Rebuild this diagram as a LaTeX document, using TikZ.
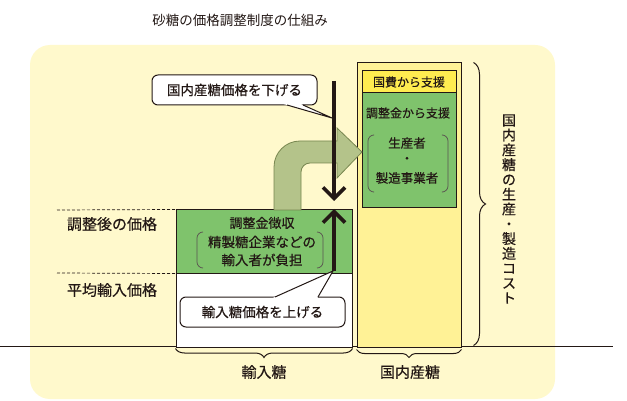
\documentclass[tikz,border=0pt]{standalone}
\usepackage{fontspec}
\newfontfamily\jpr{Noto Sans CJK JP}
\newfontfamily\jp[FakeBold=0.5]{Noto Sans CJK JP}
\usetikzlibrary{arrows.meta,decorations.pathreplacing,calc}
\definecolor{bgY}{RGB}{255,249,204}
\definecolor{domY}{RGB}{255,242,150}
\definecolor{topY}{RGB}{255,236,80}
\definecolor{grn}{RGB}{127,195,108}
\definecolor{olive}{RGB}{180,195,138}
\definecolor{oliveD}{RGB}{120,135,80}
\definecolor{ink}{RGB}{35,24,21}
\begin{document}
\begin{tikzpicture}[x=1pt,y=-1pt,
  box/.style={draw=ink, line width=1pt, inner sep=0, minimum width=#1},
  jt/.style={font=\jp\fontsize{#1}{#1}\selectfont, text=ink, inner sep=0},
  paren/.style={draw=ink!75, line width=0.7pt, rounded corners=6pt},
  bigarrow/.style={draw=ink, line width=3.6pt, -{Straight Barb[length=11pt, width=22pt]}},
  callout/.style={draw=ink, line width=1pt, fill=white, rounded corners=6pt, minimum width=165pt, minimum height=30pt, inner sep=0, font=\jp\fontsize{13.5}{13.5}\selectfont, text=ink},
  tail/.style={draw=ink, line width=1pt},
  bracedeco/.style={draw=ink, line width=1pt, decorate, decoration={brace, amplitude=#1}},
  guide/.style={draw=ink, line width=0.7pt, dash pattern=on 3pt off 2pt}
]
\useasboundingbox (0,0) rectangle (627,401);
\fill[white] (0,0) rectangle (627,401);
\fill[bgY, rounded corners=20pt] (30,45) rectangle (555,399);

% title
\node[font=\jpr\fontsize{13.5}{13.5}\selectfont, text=ink, inner sep=0] (title) at (240,20) {砂糖の価格調整制度の仕組み};

% base line
\coordinate (bl) at (0,346);
\coordinate (br) at (613,346);
\draw[ink, line width=0.8pt] (bl) -- (br);

% domestic sugar column
\node[box=104pt, minimum height=284pt, fill=domY] (dom) at (409,205) {};
\node[box=94pt, minimum height=22pt, fill=topY, jt=12] (kokuhi) at (409,82) {国費から支援};
\node[box=94pt, minimum height=115pt, fill=grn] (domg) at (409,150.5) {};
\node[jt=12] (chosei) at (408,113) {調整金から支援};
\node[jt=12.5] (seisan) at (407,143) {生産者};
\node[jt=12.5] (dot) at (407,160) {・};
\node[jt=12.5] (seizo) at (407,178) {製造事業者};
\draw[paren] (373,135) -- (368,135) -- (368,192) -- (373,192);
\draw[paren] (443,135) -- (448,135) -- (448,192) -- (443,192);

% imported sugar column
\node[box=176pt, minimum height=137pt, fill=white] (imp) at (264,278.5) {};
\node[box=176pt, minimum height=63pt, fill=grn] (impg) at (264,241.5) {};
\node[jt=13] (choshu) at (262,223) {調整金徴収};
\node[jt=13.5] (seisei) at (262,242) {精製糖企業などの};
\node[jt=13.5] (yunyu) at (262,260) {輸入者が負担};
\draw[paren] (203,232) -- (197,232) -- (197,268) -- (203,268);
\draw[paren] (317,232) -- (323,232) -- (323,268) -- (317,268);

% green curved arrow
\path[fill=olive, draw=oliveD, line width=0.8pt]
  (274,210) -- (274,167) .. controls (274,152.6) and (285.6,141) .. (300,141)
  -- (337,141) -- (337,128) -- (362,152) -- (337,178) -- (337,163)
  -- (310,163) .. controls (305,163) and (301,167) .. (301,172) -- (301,210) -- cycle;

% price labels and guides
\coordinate (g1) at (57,210);
\coordinate (g2) at (57,273);
\draw[guide] (g1) -- (impg.north west);
\draw[guide] (g2) -- (impg.south west);
\node[jt=15] (adj) at (112,224) {調整後の価格};
\node[jt=15] (avg) at (112,290) {平均輸入価格};

% black arrows
\coordinate (dtop) at (334,81);
\coordinate (dtip) at (334,201);
\coordinate (ubot) at (334,271);
\coordinate (utip) at (334,209);
\draw[bigarrow] (dtop) -- (dtip);
\draw[bigarrow] (ubot) -- (utip);

% callouts
\node[callout] (c1) at (234.5,90) {国内産糖価格を下げる};
\coordinate (c1a) at (287,105);
\coordinate (c1b) at (303,105);
\coordinate (c1tip) at (332,118);
\fill[white] (c1tip) -- ($(c1tip)!1.12!(c1a)$) -- ($(c1tip)!1.12!(c1b)$) -- cycle;
\draw[tail] (c1a) -- (c1tip) -- (c1b);

\node[callout] (c2) at (262.5,312) {輸入糖価格を上げる};
\coordinate (c2a) at (275,297);
\coordinate (c2b) at (318,297);
\coordinate (c2tip) at (333,271);
\fill[white] (c2tip) -- ($(c2tip)!1.07!(c2a)$) -- ($(c2tip)!1.07!(c2b)$) -- cycle;
\draw[tail] (c2a) -- (c2tip) -- (c2b);

% braces
\draw[bracedeco=12pt] (dom.north east) ++(12,0) coordinate (rb1) -- ($(dom.south east)+(12,-2)$) coordinate (rb2);
\node[jt=14, align=center, font=\jp\fontsize{14}{14.8}\selectfont] (cost) at (509,209)
  {国\\内\\産\\糖\\の\\生\\産\\・\\製\\造\\コ\\ス\\ト};
\draw[bracedeco=9pt] ($(imp.south east)+(0,1)$) coordinate (ib1) -- ($(imp.south west)+(0,1)$) coordinate (ib2);
\draw[bracedeco=8pt] ($(dom.south east)+(0,2)$) coordinate (db1) -- ($(dom.south west)+(0,2)$) coordinate (db2);
\node[jt=15] (lbimp) at (264,372) {輸入糖};
\node[jt=15] (lbdom) at (410,372) {国内産糖};
\end{tikzpicture}
\end{document}
